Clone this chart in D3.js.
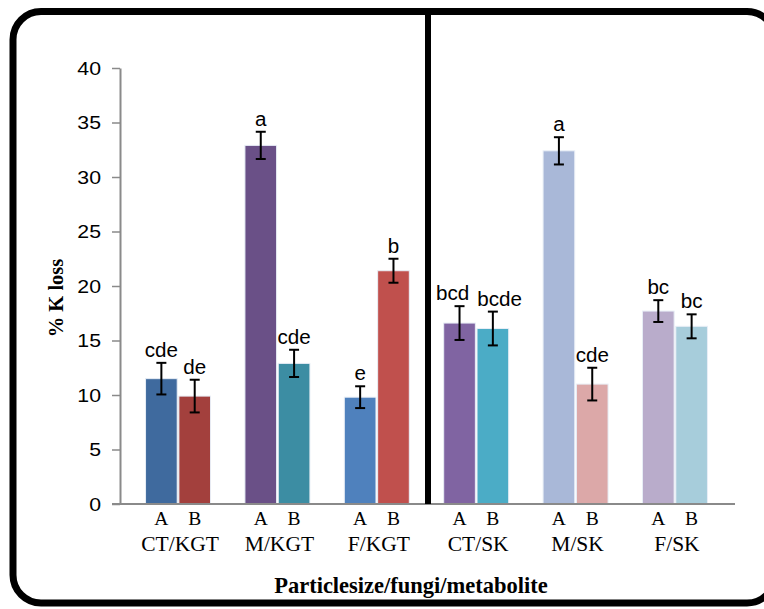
<!DOCTYPE html>
<html>
<head>
<meta charset="utf-8">
<script src="https://cdn.jsdelivr.net/npm/d3@7"></script>
<style>
  body { margin: 0; background: #fff; }
  svg { display: block; }
</style>
</head>
<body>
<div id="chart"></div>
<script>
// groups and the two sub bars in each
const groups = ["CT/KGT", "M/KGT", "F/KGT", "CT/SK", "M/SK", "F/SK"];
const subs = ["A", "B"];

// % K loss values
const valuesA = [11.5, 32.9, 9.8, 16.6, 32.4, 17.7];
const valuesB = [9.9, 12.9, 21.4, 16.1, 11.0, 16.3];
const errA = [1.45, 1.25, 1.0, 1.55, 1.25, 1.0];
const errB = [1.5, 1.25, 1.1, 1.55, 1.5, 1.1];
const lettersA = ["cde", "a", "e", "bcd", "a", "bc"];
const lettersB = ["de", "cde", "b", "bcde", "cde", "bc"];
const colorsA = ["#3F6A9E", "#6A5087", "#4F81BD", "#8064A2", "#A9B8D8", "#B9ACCB"];
const colorsB = ["#A3403D", "#3C8DA3", "#C0504D", "#4BACC6", "#DCA8A8", "#A7CDDB"];
const yTicks = [0, 5, 10, 15, 20, 25, 30, 35, 40];

const W = 764, H = 609;
const sans = "'Liberation Sans', Arial, sans-serif";
const serif = "'Liberation Serif', 'Times New Roman', serif";
const STRETCH = 1.03;

const svg = d3.select("#chart").append("svg")
  .attr("width", W)
  .attr("height", H);

// outer rounded frame
svg.append("rect")
  .attr("x", 13).attr("y", 11.5)
  .attr("width", 762).attr("height", 591.5)
  .attr("rx", 28).attr("ry", 28)
  .attr("fill", "#fff")
  .attr("stroke", "#000")
  .attr("stroke-width", 7);

const y = d3.scaleLinear().domain([0, 40]).range([504, 68]);
const x0 = d3.scaleBand().domain(groups).range([120, 733])
  .paddingInner(0.346).paddingOuter(0.257);
const x1 = d3.scaleBand().domain(subs).range([0, x0.bandwidth()])
  .paddingInner(0.05);

const rows = [];
groups.forEach((g, i) => {
  rows.push({g: g, s: "A", v: valuesA[i], e: errA[i], l: lettersA[i], c: colorsA[i]});
  rows.push({g: g, s: "B", v: valuesB[i], e: errB[i], l: lettersB[i], c: colorsB[i]});
});
const cx = d => x0(d.g) + x1(d.s) + x1.bandwidth() / 2;

// y axis
const yAxis = svg.append("g")
  .attr("transform", "translate(120,0)")
  .call(d3.axisLeft(y).tickValues(yTicks).tickSize(8).tickSizeOuter(0));
yAxis.select(".domain").attr("stroke", "#8a8a8a").attr("stroke-width", 2);
yAxis.selectAll(".tick line").attr("stroke", "#8a8a8a").attr("stroke-width", 1.5);
yAxis.selectAll(".tick text")
  .attr("x", null)
  .attr("transform", "translate(-19,0) scale(1.12,1)")
  .attr("fill", "#000")
  .style("font-family", sans)
  .style("font-size", "19px");

// bars
svg.append("g").selectAll("rect")
  .data(rows)
  .join("rect")
  .attr("x", d => x0(d.g) + x1(d.s))
  .attr("y", d => y(d.v))
  .attr("width", x1.bandwidth())
  .attr("height", d => y(0) - y(d.v))
  .attr("fill", d => d.c)
  .attr("stroke", "#e8eef6")
  .attr("stroke-width", 1);

// x axis baseline
svg.append("line")
  .attr("x1", 112).attr("x2", 735)
  .attr("y1", y(0)).attr("y2", y(0))
  .attr("stroke", "#8a8a8a").attr("stroke-width", 2);

// divider between the KGT and SK halves
svg.append("line")
  .attr("x1", 428).attr("x2", 428)
  .attr("y1", 10).attr("y2", y(0))
  .attr("stroke", "#000").attr("stroke-width", 6);

// error bars
const eb = svg.append("g").attr("stroke", "#000").attr("stroke-width", 2);
eb.selectAll("line.v").data(rows).join("line").attr("class", "v")
  .attr("x1", cx).attr("x2", cx)
  .attr("y1", d => y(d.v + d.e)).attr("y2", d => y(d.v - d.e));
eb.selectAll("line.t").data(rows).join("line").attr("class", "t")
  .attr("x1", d => cx(d) - 5).attr("x2", d => cx(d) + 5)
  .attr("y1", d => y(d.v + d.e)).attr("y2", d => y(d.v + d.e));
eb.selectAll("line.b").data(rows).join("line").attr("class", "b")
  .attr("x1", d => cx(d) - 5).attr("x2", d => cx(d) + 5)
  .attr("y1", d => y(d.v - d.e)).attr("y2", d => y(d.v - d.e));

// significance letters
const letters = svg.append("g").selectAll("text")
  .data(rows)
  .join("text")
  .attr("text-anchor", "middle")
  .style("font-family", sans)
  .style("font-size", "20px")
  .text(d => d.l);

// place each letter over its error bar, pushing apart pairs that would collide
letters.each(function(d) {
  d.lx = cx(d);
  d.ly = y(d.v + d.e) - 6;
  d.lw = this.getComputedTextLength() * STRETCH;
});
for (let i = 0; i < rows.length; i += 2) {
  const a = rows[i], b = rows[i + 1];
  if (Math.abs(a.ly - b.ly) < 15) {
    const need = a.lw / 2 + b.lw / 2 + 8 - (b.lx - a.lx);
    if (need > 0) { a.lx -= need / 2; b.lx += need / 2; }
  }
}
letters.attr("transform", d => `translate(${d.lx},${d.ly}) scale(${STRETCH},1)`);

// A / B labels
svg.append("g").selectAll("text")
  .data(rows)
  .join("text")
  .attr("x", cx)
  .attr("y", 525)
  .attr("text-anchor", "middle")
  .style("font-family", serif)
  .style("font-size", "19.5px")
  .text(d => d.s);

// group labels
svg.append("g").selectAll("text")
  .data(groups)
  .join("text")
  .attr("x", d => x0(d) + x0.bandwidth() / 2 + 2)
  .attr("y", 551)
  .attr("text-anchor", "middle")
  .style("font-family", serif)
  .style("font-size", "21.5px")
  .text(d => d);

// axis titles
svg.append("text")
  .attr("x", 411).attr("y", 593)
  .attr("text-anchor", "middle")
  .style("font-family", serif)
  .style("font-weight", "bold")
  .style("font-size", "22.5px")
  .text("Particlesize/fungi/metabolite");

svg.append("text")
  .attr("transform", "translate(63,298) rotate(-90)")
  .attr("text-anchor", "middle")
  .style("font-family", serif)
  .style("font-weight", "bold")
  .style("font-size", "20.5px")
  .text("% K loss");
</script>
</body>
</html>
